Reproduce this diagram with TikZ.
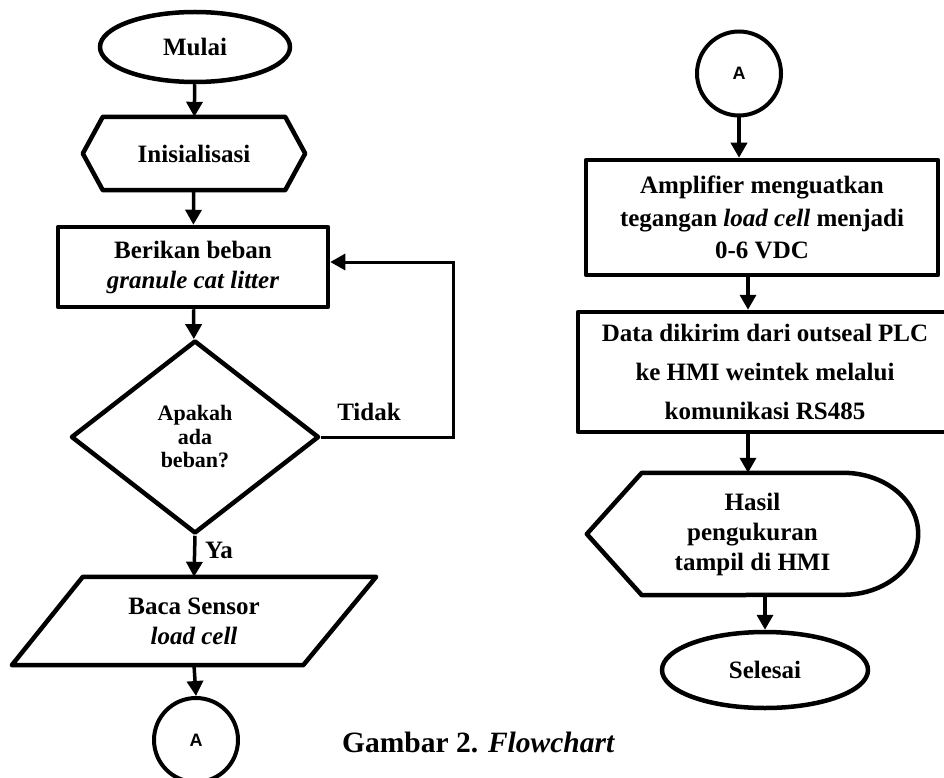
\documentclass[tikz,border=0pt]{standalone}
\usepackage{fontspec}
\setmainfont{Liberation Serif}
\newfontfamily\sansA{Liberation Sans}
\usetikzlibrary{shapes.geometric,arrows.meta,calc}
\begin{document}
\begin{tikzpicture}[x=1pt,y=-1pt,
  shp/.style={draw,line width=4.5pt,line join=round},
  lbl/.style={font=\bfseries\fontsize{25}{30}\selectfont,align=center,inner sep=0pt},
  arr/.style={line width=3.5pt,-{Triangle[length=15pt,width=16pt]}},
  conn/.style={draw,circle,line width=4pt,minimum size=84pt,inner sep=0pt,font=\sansA\bfseries\fontsize{18}{20}\selectfont},
]
\useasboundingbox (0,0) rectangle (944,778);

% left column
\node[shp,ellipse,lbl,minimum width=190pt,minimum height=70pt] (mulai) at (195,47) {Mulai};

\node[lbl,minimum width=222pt,minimum height=73pt] (init) at (194,153.5) {Inisialisasi};
\draw[shp] (init.west) -- ($(init.north west)+(20,0)$) -- ($(init.north east)+(-20,0)$) -- (init.east) -- ($(init.south east)+(-20,0)$) -- ($(init.south west)+(20,0)$) -- cycle;

\node[shp,lbl,minimum width=270pt,minimum height=80pt] (beban) at (193,267) {Berikan beban\\\textit{granule cat litter}};

\node[shp,diamond,minimum width=248pt,minimum height=193pt,inner sep=0pt,align=center,font=\bfseries\fontsize{22}{23.5}\selectfont] (dec) at (195,437) {Apakah\\ada\\beban?};

\node[lbl] (tidak) at (369,412) {Tidak};
\node[lbl] (ya) at (219,550) {Ya};

\node[lbl,minimum width=364pt,minimum height=88pt] (baca) at (194,621) {Baca Sensor\\\textit{load cell}};
\draw[shp] ($(baca.north west)+(71,0)$) -- (baca.north east) -- ($(baca.south east)+(-73,0)$) -- (baca.south west) -- cycle;

\node[conn] (ca1) at (196,740) {A};

\coordinate (lp) at (453,437);

\draw[arr] (mulai) -- (init);
\draw[arr] (init) -- (beban);
\draw[arr] (beban) -- (dec);
\draw[arr,line width=3pt] (dec.east) -- (lp) |- ([yshift=5pt]beban.east);
\draw[arr] (dec.south) -- (baca.north);
\draw[arr] (baca.south) -- (ca1.north);

% right column
\node[conn] (ca2) at (739,73.5) {A};

\node[shp,lbl,font=\bfseries\fontsize{25}{32.5}\selectfont,minimum width=352pt,minimum height=115pt] (amp) at (762,217.5) {Amplifier menguatkan\\tegangan \textit{load cell} menjadi\\0-6 VDC};

\node[shp,lbl,font=\bfseries\fontsize{25}{39}\selectfont,minimum width=374pt,minimum height=120pt] (data) at (765,372) {Data dikirim dari outseal PLC\\ke HMI weintek melalui\\komunikasi RS485};

\node[lbl,minimum width=331pt,minimum height=122pt] (disp) at (752.5,534) {Hasil\\pengukuran\\tampil di HMI};
\draw[shp] ($(disp.north west)+(55,0)$) -- ($(disp.north east)+(-75,0)$) arc[start angle=-90,end angle=90,x radius=75,y radius=61] -- ($(disp.south west)+(55,0)$) -- (disp.west) -- cycle;

\node[shp,ellipse,lbl,minimum width=206pt,minimum height=76pt] (sel) at (765,670) {Selesai};

\draw[arr] (ca2.south) -- (ca2.south |- amp.north);
\draw[arr] ([xshift=-14pt]amp.south) -- ([xshift=-14pt]amp.south |- data.north);
\draw[arr] ([xshift=-17pt]data.south) -- ([xshift=-17pt]data.south |- disp.north);
\draw[arr] (disp.south -| sel.north) -- (sel.north);

% caption
\node[font=\bfseries\fontsize{29.5}{34}\selectfont,anchor=west,inner sep=0pt] (cap) at (342,742) {Gambar 2. \textit{Flowchart}};
\end{tikzpicture}
\end{document}
